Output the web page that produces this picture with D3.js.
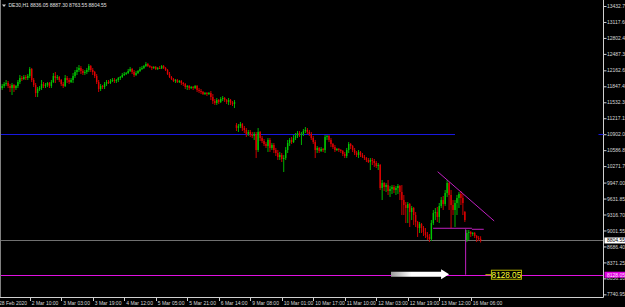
<!DOCTYPE html>
<html><head><meta charset="utf-8">
<script src="https://cdn.jsdelivr.net/npm/d3@7"></script>
<style>html,body{margin:0;padding:0;background:#000;overflow:hidden}svg{display:block}</style>
</head><body>
<svg id="c" width="625" height="307"></svg>
<script>
const symbol = "DE30,H1";
const opens = [11873,11814,11854,11893,11913,11854,11814,11873,11814,11854,11932,12011,11992,12031,12011,12051,12189,11972,11873,11715,11794,11814,11893,11854,11873,11913,11854,11932,12051,12011,12031,11972,11893,11854,12011,11972,11932,11972,12051,12130,12169,12209,12150,12110,12130,12169,12248,12169,12130,12051,11932,11794,11854,11834,11893,11932,11913,11952,11972,11952,11972,12011,12031,12071,12090,12110,12150,12189,12130,12071,12110,12150,12189,12209,12248,12288,12248,12229,12209,12229,12189,12209,12199,12248,12209,12169,12090,12031,11992,11952,11972,11932,11952,11913,11893,11834,11854,11814,11834,11814,11854,11775,11755,11735,11696,11715,11696,11715,11636,11557,11518,11577,11538,11597,11617,11577,11538,11577,11518,11498,11084,11024,11064,11103,11024,10985,10906,10946,10886,10867,10906,10590,10946,10827,10768,10709,10669,10788,10630,10689,10590,10531,10452,10491,10413,10432,10590,10728,10788,10748,10827,10867,10926,10886,10906,10965,10985,10946,10906,10827,10748,10590,10630,10570,10610,10590,10847,10867,10788,10709,10649,10590,10610,10590,10570,10511,10472,10590,10709,10669,10590,10531,10491,10551,10491,10452,10432,10393,10353,10393,10373,10334,10274,10294,9840,9939,9860,9899,9781,9820,9860,9801,9840,9880,9761,9603,9504,9445,9524,9366,9445,9307,9169,9050,9129,9050,8972,8912,8873,8833,9149,9347,9366,9268,9485,9603,9524,9741,9939,9702,9504,9406,9544,9643,9722,9643,9366,8814,8952,8972,8932,8952,8893,8853,8836.05];
const highs = [11932,11893,11932,11972,11952,11893,11913,11893,11873,11972,12071,12051,12071,12071,12090,12229,12209,12011,11913,11834,11854,11972,11932,11913,11932,11932,11972,12110,12130,12071,12051,11992,11932,12071,12051,12011,12011,12110,12169,12229,12268,12248,12189,12169,12209,12288,12268,12209,12150,12090,11972,11893,11873,11932,11972,11972,11992,12011,12011,11992,12031,12051,12110,12130,12130,12189,12229,12209,12169,12150,12169,12229,12248,12268,12327,12308,12268,12248,12248,12248,12229,12248,12268,12268,12229,12189,12130,12051,12011,11992,11992,11972,11972,11932,11913,11873,11873,11854,11854,11873,11873,11814,11794,11755,11735,11735,11735,11755,11696,11597,11617,11597,11636,11656,11636,11597,11617,11597,11557,11577,11123,11103,11143,11123,11064,11024,10985,10985,10946,10946,10946,11024,10965,10867,10807,10748,10827,10827,10728,10728,10630,10590,10551,10531,10491,10649,10788,10827,10847,10886,10926,10965,10965,10946,11005,11044,11024,10985,10946,10867,10788,10669,10649,10649,10630,10886,10886,10886,10827,10728,10689,10630,10630,10610,10590,10551,10630,10748,10728,10689,10630,10570,10590,10570,10531,10491,10452,10432,10432,10432,10413,10373,10334,10314,9998,9958,9939,9998,9880,9899,9899,9880,9919,9899,9899,9702,9564,9564,9544,9485,9465,9366,9189,9169,9149,9090,9050,8972,8932,9208,9406,9445,9465,9544,9662,9682,9801,9998,9958,9801,9603,9603,9702,9761,9781,9722,9386,9011,9011,8991,8972,8972,8912,8893,8887.30];
const lows = [11775,11775,11814,11854,11814,11735,11676,11735,11775,11814,11893,11952,11972,11972,11972,12011,11932,11834,11636,11636,11755,11775,11814,11814,11834,11814,11814,11913,11913,11972,11932,11854,11814,11834,11913,11893,11913,11913,12011,12071,12130,12090,12071,12071,12090,12130,12130,12071,12011,11893,11735,11755,11794,11794,11854,11893,11893,11932,11913,11913,11932,11972,12011,12051,12071,12090,12130,12090,12031,12051,12090,12130,12169,12189,12229,12229,12209,12169,12189,12169,12169,12189,12189,12189,12150,12071,12011,11972,11932,11913,11913,11913,11873,11854,11794,11775,11775,11794,11775,11794,11735,11715,11696,11676,11676,11656,11676,11577,11498,11478,11478,11498,11518,11557,11538,11498,11478,11478,11459,11419,10965,10946,11024,10965,10926,10847,10867,10847,10827,10788,10432,10551,10768,10728,10669,10630,10551,10551,10590,10531,10472,10393,10393,10353,10156,10393,10531,10669,10709,10728,10788,10827,10847,10689,10867,10926,10906,10867,10788,10709,10432,10531,10531,10551,10551,10531,10788,10748,10649,10610,10551,10570,10551,10531,10472,10432,10432,10531,10610,10551,10491,10452,10432,10452,10432,10393,10353,10334,10195,10294,10255,10235,10195,9801,9603,9781,9761,9702,9662,9722,9741,9702,9722,9603,9307,9307,9149,9149,9070,9208,9110,9070,8873,8952,8952,8893,8853,8814,8774,8794,9110,9208,9169,9149,9445,9406,9485,9662,9406,9050,9307,9070,9307,9445,9504,9307,9169,8774,8814,8873,8893,8853,8774,8794,8763.55];
const closes = [11814,11854,11893,11913,11854,11814,11873,11814,11854,11932,12011,11992,12031,12011,12051,12189,11972,11873,11715,11794,11814,11893,11854,11873,11913,11854,11932,12051,12011,12031,11972,11893,11854,12011,11972,11932,11972,12051,12130,12169,12209,12150,12110,12130,12169,12248,12169,12130,12051,11932,11794,11854,11834,11893,11932,11913,11952,11972,11952,11972,12011,12031,12071,12090,12110,12150,12189,12130,12071,12110,12150,12189,12209,12248,12288,12248,12229,12209,12229,12189,12209,12199,12248,12209,12169,12090,12031,11992,11952,11972,11932,11952,11913,11893,11834,11854,11814,11834,11814,11854,11775,11755,11735,11696,11715,11696,11715,11636,11557,11518,11577,11538,11597,11617,11577,11538,11577,11518,11498,11538,11024,11064,11103,11024,10985,10906,10946,10886,10867,10906,10590,10946,10827,10768,10709,10669,10788,10630,10689,10590,10531,10452,10491,10413,10432,10590,10728,10788,10748,10827,10867,10926,10886,10906,10965,10985,10946,10906,10827,10748,10590,10630,10570,10610,10590,10847,10867,10788,10709,10649,10590,10610,10590,10570,10511,10472,10590,10709,10669,10590,10531,10491,10551,10491,10452,10432,10393,10353,10393,10373,10334,10274,10294,9840,9939,9860,9899,9781,9820,9860,9801,9840,9880,9761,9603,9504,9445,9524,9366,9445,9307,9169,9050,9129,9050,8972,8912,8873,8833,9149,9347,9366,9268,9485,9603,9524,9741,9939,9702,9504,9406,9544,9643,9722,9643,9544,9208,8952,8972,8932,8952,8893,8853,8836.05,8804.55];
const priceTicks = [13432.75,13117.60,12802.45,12487.30,12162.65,11847.45,11532.30,11217.15,10902.00,10586.85,10271.70,9947.00,9631.85,9316.70,9001.55,8686.40,8371.25,8056.10,7740.95];
const timeLabels = ["28 Feb 2020","2 Mar 10:00","3 Mar 03:00","3 Mar 19:00","4 Mar 12:00","5 Mar 05:00","5 Mar 21:00","6 Mar 14:00","9 Mar 08:00","10 Mar 01:00","10 Mar 17:00","11 Mar 10:00","12 Mar 03:00","12 Mar 19:00","13 Mar 12:00","16 Mar 06:00"];
const timeLabelBars = [0,15,31,47,63,79,95,111,127,143,159,175,191,207,223,239];
const blueLevel = {price:10902.00, fromBar:0, toBar:231};
const currentPrice = 8804.55;
const targetPrice = 8128.05;
const triangleTop = [{bar:222.2, price:10162},{bar:250.9, price:9189}];
const triangleBase = [{bar:219.9, price:9045},{bar:239.6, price:9045}];
const triangleBase2 = [{bar:239.6, price:9025},{bar:245.6, price:9025}];
const projection = {bar:236.4, from:9025, to:targetPrice};
const arrowSpan = {fromBar:198.5, toBar:228};
const priceLabelBar = 249.5;

const svg = d3.select("#c");
const W = 625, H = 307, plotR = 603.5, plotB = 297.5;
const x = d3.scaleLinear().domain([0, 244]).range([0.2, 480.6]);
const y = d3.scaleLinear().domain([7740.95, 13432.75]).range([294.34, 6]);
const FONT = "Liberation Sans, Arial, sans-serif";

svg.append("rect").attr("width", W).attr("height", H).attr("fill", "#000");

const plot = svg.append("g");
plot.append("clipPath").attr("id","clip").append("rect").attr("x",0).attr("y",0).attr("width",plotR).attr("height",plotB);
const g = plot.append("g").attr("clip-path","url(#clip)");

// horizontal levels
g.append("line").attr("x1", x(blueLevel.fromBar)-1).attr("x2", x(blueLevel.toBar))
  .attr("y1", Math.round(y(blueLevel.price))+0.5).attr("y2", Math.round(y(blueLevel.price))+0.5)
  .attr("stroke", "#1818e0").attr("stroke-width", 1);
g.append("line").attr("x1", 0).attr("x2", plotR)
  .attr("y1", Math.round(y(currentPrice))+0.5).attr("y2", Math.round(y(currentPrice))+0.5)
  .attr("stroke", "#707070").attr("stroke-width", 1);
g.append("line").attr("x1", 0).attr("x2", plotR)
  .attr("y1", Math.round(y(targetPrice))+0.5).attr("y2", Math.round(y(targetPrice))+0.5)
  .attr("stroke", "#e010e0").attr("stroke-width", 1);

// candles
const bars = d3.range(closes.length).map(i => ({i, o:opens[i], h:highs[i], l:lows[i], c:closes[i]}));
const cg = g.append("g");
cg.selectAll("rect.wick").data(bars).join("rect").attr("class","wick")
  .attr("x", d => x(d.i) - 0.5).attr("width", 1)
  .attr("y", d => y(d.h)).attr("height", d => Math.max(1, y(d.l) - y(d.h)))
  .attr("fill", d => d.c >= d.o ? "#00b000" : "#c80000");
cg.selectAll("rect.body").data(bars).join("rect").attr("class","body")
  .attr("x", d => x(d.i) - 0.7).attr("width", 1.4)
  .attr("y", d => y(Math.max(d.o, d.c))).attr("height", d => Math.max(1, Math.abs(y(d.o) - y(d.c))))
  .attr("fill", d => d.c >= d.o ? "#00c800" : "#e00000");

// triangle / projection annotations
const line = d3.line().x(d => x(d.bar)).y(d => y(d.price));
g.append("path").attr("d", line(triangleTop)).attr("stroke", "#c020c0").attr("fill","none").attr("stroke-width",1);
g.append("path").attr("d", line(triangleBase)).attr("stroke", "#c020c0").attr("fill","none").attr("stroke-width",1);
g.append("path").attr("d", line(triangleBase2)).attr("stroke", "#c020c0").attr("fill","none").attr("stroke-width",1);
g.append("line").attr("x1", x(projection.bar)).attr("x2", x(projection.bar))
  .attr("y1", y(projection.from)).attr("y2", y(projection.to)).attr("stroke", "#c020c0").attr("stroke-width",1);

// white arrow
const defs = svg.append("defs");
const grad = defs.append("linearGradient").attr("id","ag").attr("x1","0%").attr("x2","100%");
grad.append("stop").attr("offset","0%").attr("stop-color","#9a9a9a");
grad.append("stop").attr("offset","35%").attr("stop-color","#ffffff");
grad.append("stop").attr("offset","100%").attr("stop-color","#ffffff");
const ax0 = x(arrowSpan.fromBar), ax1 = x(arrowSpan.toBar), ay = y(targetPrice) - 0.5;
const headL = 8, bodyH = 2.6, headH = 5;
g.append("path").attr("fill","url(#ag)")
  .attr("d", `M${ax0},${ay-bodyH} L${ax1-headL},${ay-bodyH} L${ax1-headL},${ay-headH} L${ax1},${ay} L${ax1-headL},${ay+headH} L${ax1-headL},${ay+bodyH} L${ax0},${ay+bodyH} Z`);

// yellow price label
const plx = x(priceLabelBar), ply = y(targetPrice);
g.append("line").attr("x1", plx-6).attr("x2", plx).attr("y1", ply).attr("y2", ply).attr("stroke","#c8c800").attr("stroke-width",1);
g.append("rect").attr("x", plx).attr("y", ply-4.5).attr("width", 30).attr("height", 9)
  .attr("fill","#000").attr("stroke","#b8b800").attr("stroke-width",1);
g.append("text").attr("x", plx+15).attr("y", ply+3).attr("text-anchor","middle")
  .attr("font-family", FONT).attr("font-size", 8.2).attr("fill","#ffff30").text(targetPrice.toFixed(2));

// left border
svg.append("line").attr("x1",0.5).attr("x2",0.5).attr("y1",0).attr("y2",plotB).attr("stroke","#808080");

// right axis
const yAxis = d3.axisRight(y).tickValues(priceTicks).tickSize(3).tickFormat(d3.format(".2f"));
const ya = svg.append("g").attr("transform", `translate(${plotR},0)`).call(yAxis);
ya.select(".domain").attr("stroke","#d0d0d0").attr("d", `M0,0V${plotB}`);
ya.selectAll(".tick line").attr("stroke","#d0d0d0");
ya.selectAll(".tick text").attr("fill","#d8d8d8").attr("font-family",FONT).attr("font-size",5).attr("x",3.5);

// current price box
const cpy = y(currentPrice);
svg.append("rect").attr("x", plotR+1).attr("y", cpy-3).attr("width", 22).attr("height", 6).attr("fill","#ffffff");
svg.append("text").attr("x", plotR+3.5).attr("y", cpy+1.8).attr("font-family",FONT).attr("font-size",5).attr("fill","#000").text(currentPrice.toFixed(2));
// target price box
const tpy = y(targetPrice);
svg.append("rect").attr("x", plotR+1).attr("y", tpy-3).attr("width", 22).attr("height", 6).attr("fill","#e000e0");
svg.append("text").attr("x", plotR+3.5).attr("y", tpy+1.8).attr("font-family",FONT).attr("font-size",5).attr("fill","#ffe0ff").text(targetPrice.toFixed(2));
// blue level tick on axis
svg.append("line").attr("x1", plotR-5).attr("x2", plotR).attr("y1", Math.round(y(blueLevel.price))+0.5).attr("y2", Math.round(y(blueLevel.price))+0.5).attr("stroke","#1818e0");

// bottom axis
svg.append("line").attr("x1",0).attr("x2",plotR).attr("y1",plotB).attr("y2",plotB).attr("stroke","#d0d0d0");
const xt = svg.append("g");
xt.selectAll("line").data(timeLabelBars.slice(1)).join("line")
  .attr("x1", d => Math.round(x(d))+0.5).attr("x2", d => Math.round(x(d))+0.5)
  .attr("y1", plotB).attr("y2", plotB+3.5).attr("stroke","#d0d0d0");
xt.selectAll("text").data(timeLabels).join("text")
  .attr("x", (d,i) => i === 0 ? -1 : x(timeLabelBars[i]) + 2)
  .attr("y", 304.5).attr("font-family",FONT).attr("font-size",5).attr("fill","#d8d8d8").text(d => d);

// title
const last = closes.length - 1;
svg.append("path").attr("d","M2,4.5 L6,4.5 L4,7 Z").attr("fill","#d0d0d0");
svg.append("text").attr("x", 8.5).attr("y", 7.3).attr("font-family",FONT).attr("font-size",5).attr("fill","#e0e0e0")
  .text(`${symbol}  ${opens[last].toFixed(2)} ${highs[last].toFixed(2)} ${lows[last].toFixed(2)} ${closes[last].toFixed(2)}`);
</script>
</body></html>
